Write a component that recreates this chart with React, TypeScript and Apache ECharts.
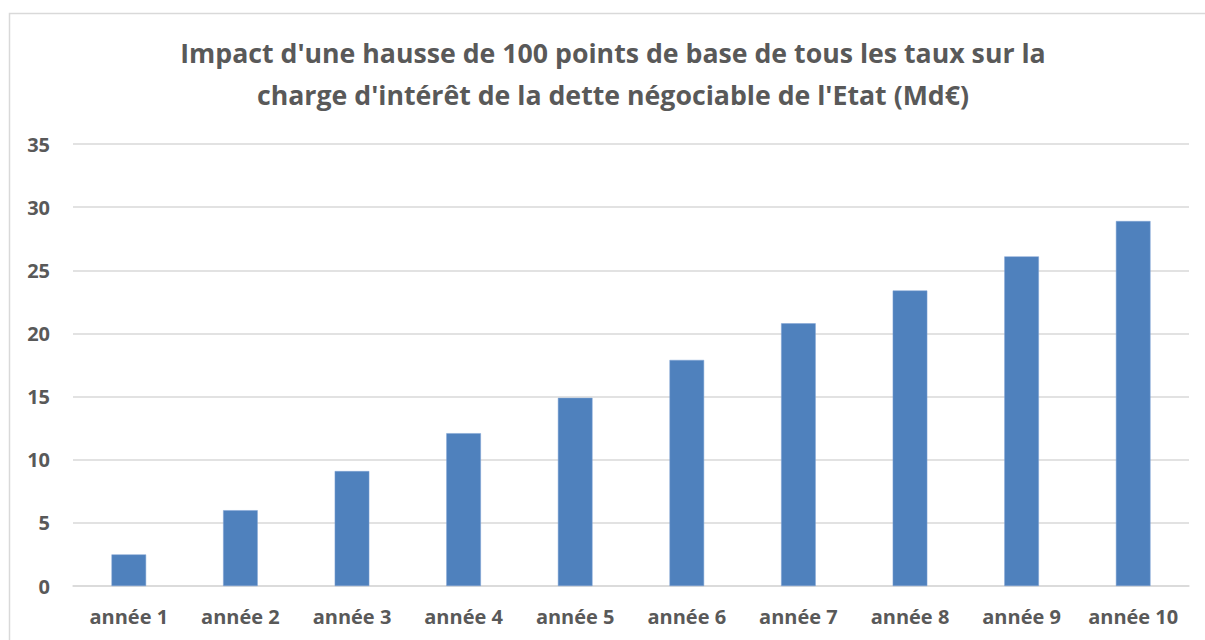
import React, { useEffect, useRef } from "react";
import * as echarts from "echarts";

const titleText =
  "Impact d'une hausse de 100 points de base de tous les taux sur la\ncharge d'intérêt de la dette négociable de l'Etat (Md€)";
const categories = [
  "année 1",
  "année 2",
  "année 3",
  "année 4",
  "année 5",
  "année 6",
  "année 7",
  "année 8",
  "année 9",
  "année 10",
];
const values = [2.5, 6.0, 9.1, 12.1, 14.9, 17.9, 20.8, 23.4, 26.1, 28.9];
const yMin = 0;
const yMax = 35;
const yStep = 5;

export default function App() {
  const ref = useRef<HTMLDivElement>(null);
  useEffect(() => {
    if (!ref.current) return;
    const chart = echarts.init(ref.current, null, { renderer: "svg" });
    const font = "Open Sans";
    chart.setOption({
      animation: false,
      backgroundColor: "#ffffff",
      graphic: [
        {
          type: "rect",
          shape: { x: 9.5, y: 13.5, width: 1210, height: 640 },
          style: { fill: "none", stroke: "#d9d9d9", lineWidth: 1.5 },
          silent: true,
        },
        {
          type: "text",
          x: 613,
          y: 31,
          silent: true,
          style: {
            text: titleText,
            fontFamily: font,
            fontWeight: "bold",
            fontSize: 26.7,
            fill: "#595959",
            lineHeight: 42,
            align: "center",
            verticalAlign: "top",
          },
        },
      ],
      grid: { left: 73, right: 16, top: 144, bottom: 54, containLabel: false },
      xAxis: {
        type: "category",
        data: categories,
        axisLine: { show: true, lineStyle: { color: "#d9d9d9", width: 1.5 } },
        axisTick: { show: false },
        axisLabel: {
          fontFamily: font,
          fontWeight: "bold",
          fontSize: 20,
          color: "#595959",
          margin: 20,
          interval: 0,
        },
      },
      yAxis: {
        type: "value",
        min: yMin,
        max: yMax,
        interval: yStep,
        axisLine: { show: false },
        axisTick: { show: false },
        splitLine: { lineStyle: { color: "#d9d9d9", width: 1.5 } },
        axisLabel: {
          fontFamily: font,
          fontWeight: "bold",
          fontSize: 20,
          color: "#595959",
          margin: 23,
        },
      },
      series: [
        {
          type: "bar",
          data: values,
          barWidth: "31%",
          itemStyle: { color: "#4f81bd", borderColor: "#7ea3d4", borderWidth: 0.5 },
        },
      ],
    });
    return () => chart.dispose();
  }, []);
  return (
    <div
      ref={ref}
      style={{ position: "fixed", left: 0, top: 0, width: 1205, height: 640 }}
    />
  );
}
